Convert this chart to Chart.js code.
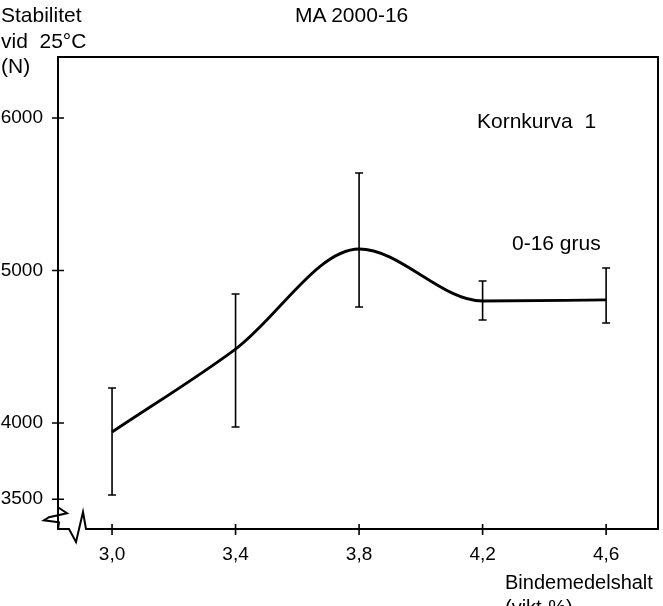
<!DOCTYPE html>
<html>
<head>
<meta charset="utf-8">
<script src="https://cdn.jsdelivr.net/npm/chart.js@4.4.1/dist/chart.umd.min.js"></script>
<style>
    html, body { margin: 0; padding: 0; background: #fff; }
    #wrap { position: relative; width: 663px; height: 606px; overflow: hidden; }
    #wrap canvas { position: absolute; left: 0; top: 0; }
    .lbl { position: absolute; font-family: 'Liberation Sans', Arial, sans-serif; color: #000; white-space: nowrap; }
    .big { font-size: 21px; line-height: 25.5px; }
    .mid { font-size: 20px; line-height: 25px; }
</style>
</head>
<body>
<div id="wrap">
    <canvas id="stabChart" width="663" height="606"></canvas>
    <div class="lbl big" style="left:1px; top:2px;">Stabilitet<br>vid&nbsp; 25°C<br>(N)</div>
    <div class="lbl big" style="left:295px; top:2px;">MA 2000-16</div>
    <div class="lbl big" style="left:477px; top:108px;">Kornkurva&nbsp; 1</div>
    <div class="lbl big" style="left:512px; top:230px;">0-16 grus</div>
    <div class="lbl mid" style="left:505px; top:570px;">Bindemedelshalt<br>(vikt-%)</div>
</div>
<script>
// data
const binderContent = [3.0, 3.4, 3.8, 4.2, 4.6];
const stability = [3941, 4485, 5141, 4800, 4807];
const stabilityLow = [3528, 3974, 4761, 4675, 4656];
const stabilityHigh = [4230, 4846, 5639, 4931, 5016];
const xTicks = [3.0, 3.4, 3.8, 4.2, 4.6];
const yTicks = [3500, 4000, 5000, 6000];

// vertical error bars with small caps
const errorBars = {
    id: 'errorBars',
    afterDatasetsDraw(chart) {
        const { ctx, scales } = chart;
        ctx.save();
        ctx.strokeStyle = '#000';
        ctx.lineWidth = 1.6;
        binderContent.forEach(function (v, i) {
            const x = scales.x.getPixelForValue(v);
            const yl = scales.y.getPixelForValue(stabilityLow[i]);
            const yh = scales.y.getPixelForValue(stabilityHigh[i]);
            ctx.beginPath();
            ctx.moveTo(x, yl); ctx.lineTo(x, yh);
            ctx.moveTo(x - 4, yl); ctx.lineTo(x + 4, yl);
            ctx.moveTo(x - 4, yh); ctx.lineTo(x + 4, yh);
            ctx.stroke();
        });
        ctx.restore();
    }
};

// box frame, cross ticks and the axis breaks
const frame = {
    id: 'frame',
    afterDraw(chart) {
        const { ctx, chartArea: a, scales } = chart;
        const yb = scales.y.getPixelForValue(3500) + 8;
        ctx.save();
        ctx.strokeStyle = '#000';
        ctx.lineWidth = 2;
        ctx.lineJoin = 'miter';
        ctx.beginPath();
        ctx.moveTo(a.left, a.bottom - 1);
        ctx.lineTo(a.left, yb);
        ctx.lineTo(a.left + 9, yb + 6);
        ctx.lineTo(a.left - 9, yb + 10);
        ctx.lineTo(a.left - 14, yb + 13);
        ctx.lineTo(a.left + 1, yb + 15);
        ctx.lineTo(a.left, a.bottom);
        ctx.lineTo(a.left + 11, a.bottom);
        ctx.lineTo(a.left + 18, a.bottom + 13);
        ctx.lineTo(a.left + 25, a.bottom - 17);
        ctx.lineTo(a.left + 28, a.bottom);
        ctx.lineTo(a.right, a.bottom);
        ctx.lineTo(a.right, a.top);
        ctx.lineTo(a.left, a.top);
        ctx.lineTo(a.left, yb);
        ctx.stroke();

        ctx.lineWidth = 1.6;
        ctx.beginPath();
        yTicks.forEach(function (v) {
            const y = scales.y.getPixelForValue(v);
            ctx.moveTo(a.left - 6, y); ctx.lineTo(a.left + 6, y);
        });
        xTicks.forEach(function (v) {
            const x = scales.x.getPixelForValue(v);
            ctx.moveTo(x, a.bottom - 5); ctx.lineTo(x, a.bottom + 6);
        });
        ctx.stroke();
        ctx.restore();
    }
};

const ctx = document.getElementById('stabChart').getContext('2d');
new Chart(ctx, {
    type: 'line',
    data: {
        datasets: [{
            label: 'Stabilitet',
            data: binderContent.map(function (v, i) { return { x: v, y: stability[i] }; }),
            borderColor: '#000',
            borderWidth: 2.8,
            pointRadius: 0,
            fill: false,
            cubicInterpolationMode: 'monotone'
        }]
    },
    options: {
        responsive: false,
        animation: false,
        devicePixelRatio: 1,
        layout: { padding: { top: 57, right: 5, left: 0, bottom: 0 } },
        plugins: {
            legend: { display: false },
            tooltip: { enabled: false }
        },
        scales: {
            x: {
                type: 'linear',
                position: 'bottom',
                min: 2.825,
                max: 4.768,
                grid: { display: false, drawTicks: false },
                border: { display: false },
                afterFit: function (s) { s.height = 77; },
                afterBuildTicks: function (s) { s.ticks = xTicks.map(function (v) { return { value: v }; }); },
                ticks: {
                    autoSkip: false,
                    maxRotation: 0,
                    padding: 14,
                    color: '#000',
                    font: { family: "'Liberation Sans', Arial, sans-serif", size: 19 },
                    callback: function (value) { return value.toFixed(1).replace('.', ','); }
                }
            },
            y: {
                type: 'linear',
                min: 3305,
                max: 6400,
                grid: { display: false, drawTicks: false },
                border: { display: false },
                afterFit: function (s) { s.width = 58; },
                afterBuildTicks: function (s) { s.ticks = yTicks.map(function (v) { return { value: v }; }); },
                ticks: {
                    autoSkip: false,
                    padding: 15,
                    color: '#000',
                    font: { family: "'Liberation Sans', Arial, sans-serif", size: 19 },
                    callback: function (value) { return String(value); }
                }
            }
        }
    },
    plugins: [errorBars, frame]
});
</script>
</body>
</html>
